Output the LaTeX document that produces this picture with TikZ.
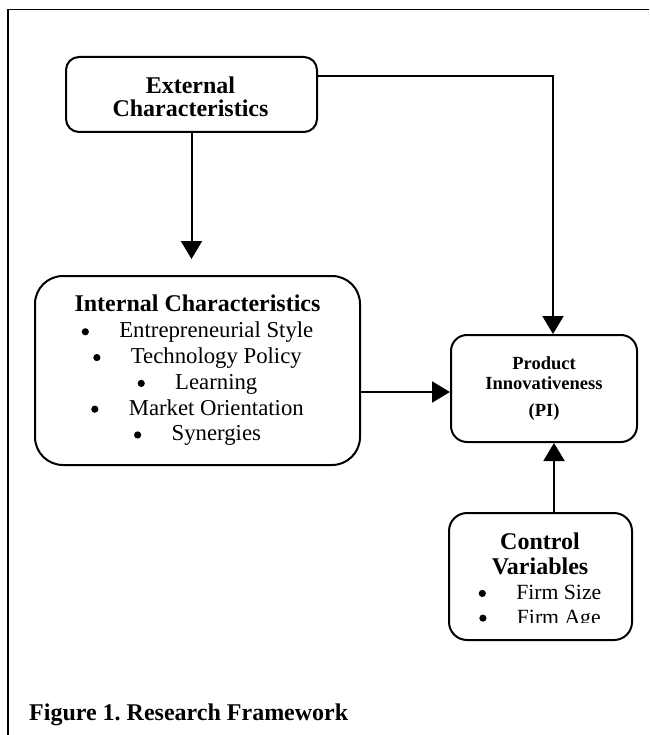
\documentclass[tikz,border=0pt]{standalone}
\usepackage{fontspec}
\setmainfont{Liberation Serif}
\usetikzlibrary{arrows.meta,calc}
\newcommand{\bigbul}{\raisebox{2.3pt}{\tikz\fill[black] (0pt,0pt) circle[radius=3.6pt];}}
\newcommand{\bulitem}[1]{\bigbul\hspace{30.4pt}#1}
\begin{document}
\begin{tikzpicture}[x=1pt,y=-1pt,
  box/.style={draw,line width=2pt,align=center,inner sep=0pt},
  conn/.style={line width=2pt,-{Triangle[length=18pt,width=21pt]}},
  frameline/.style={line width=1.6pt}]
\useasboundingbox (0,0) rectangle (649,735);
% outer frame (only left and top edges visible)
\draw[frameline] (8,735) -- (8,9.5) -- (649,9.5);

% boxes
\node[box,rounded corners=13pt,minimum width=251pt,minimum height=75pt] (ext) at (191.5,94.5) {};
\node[align=center,inner sep=0pt,font={\fontsize{24}{23}\selectfont\bfseries}] (exttext) at (190.5,97)
  {External\\Characteristics};

\node[box,rounded corners=28pt,minimum width=325pt,minimum height=189pt,
  font={\fontsize{22.75}{25.8}\selectfont}] (int) at (197.5,370.5)
  {{\fontsize{24}{25.8}\selectfont\bfseries Internal Characteristics}\\
   \bulitem{Entrepreneurial Style}\\
   \bulitem{Technology Policy}\\
   \bulitem{Learning}\\
   \bulitem{Market Orientation}\\
   \bulitem{Synergies}};

\node[box,rounded corners=16pt,minimum width=186pt,minimum height=107pt,
  font={\fontsize{18.5}{20}\selectfont\bfseries}] (pi) at (544,388.5)
  {Product\\Innovativeness\\[7pt](PI)};

\node[box,rounded corners=18pt,minimum width=183pt,minimum height=127pt] (ctrl) at (540.5,576.5) {};
\begin{scope}
  \clip (440,505) rectangle (640,622.5);
  \node[align=center,inner sep=0pt,font={\fontsize{21.7}{24.7}\selectfont}] (ctrltext) at (540,581)
    {{\fontsize{24}{24.7}\selectfont\bfseries Control}\\
     {\fontsize{24}{24.7}\selectfont\bfseries Variables}\\
     \bulitem{Firm Size}\\
     \bulitem{Firm Age}};
\end{scope}

% connectors
\draw[conn,shorten >=16pt] (ext.south) -- (ext.south |- int.north);
\coordinate (e1) at ([yshift=18.5pt]ext.east);
\coordinate (p1) at ([xshift=9pt]pi.north);
\draw[conn] (e1) -| (p1);
\coordinate (i1) at ([yshift=-21.5pt]int.east);
\draw[conn] (i1) -- (i1 -| pi.west);
\coordinate (c1) at ([xshift=10pt]pi.south |- ctrl.north);
\coordinate (p2) at ([xshift=10pt]pi.south);
\draw[conn] (c1) -- (p2);

% caption
\node[anchor=base west,inner sep=0pt,font={\fontsize{24}{26}\selectfont\bfseries}] (cap) at (29,720)
  {\frenchspacing Figure 1. Research Framework};
\end{tikzpicture}
\end{document}
